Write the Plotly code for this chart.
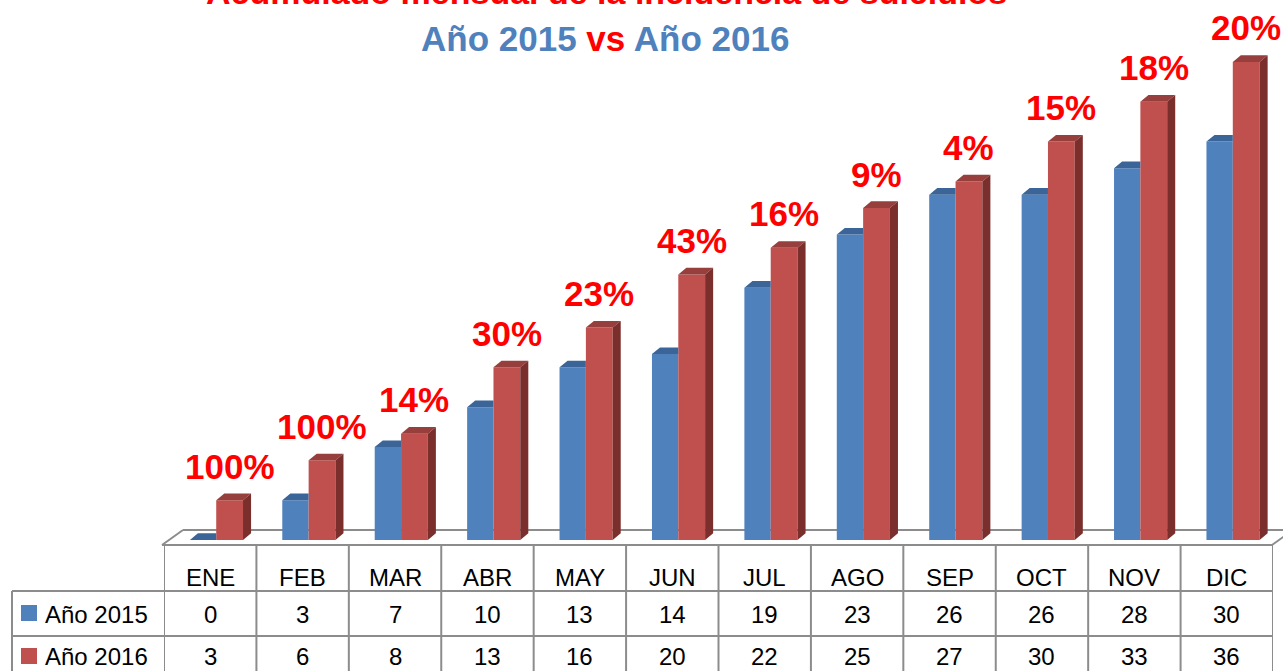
import plotly.graph_objects as go

months = ["ENE", "FEB", "MAR", "ABR", "MAY", "JUN", "JUL", "AGO", "SEP", "OCT", "NOV", "DIC"]
y2015 = [0, 3, 7, 10, 13, 14, 19, 23, 26, 26, 28, 30]
y2016 = [3, 6, 8, 13, 16, 20, 22, 25, 27, 30, 33, 36]
pct_labels = ["100%", "100%", "14%", "30%", "23%", "43%", "16%", "9%", "4%", "15%", "18%", "20%"]
series_names = ["Año 2015", "Año 2016"]
title_line1 = "Acumulado mensual de la incidencia de suicidios"

W, H = 1283, 671
L, R, T, B = 164, 10, 0, 131
PW, PH = W - L - R, H - T - B
YMAX = 540 / 13.28

BLUE, BLUE_TOP = "#4F81BD", "#3B6598"
RED, RED_TOP, RED_SIDE = "#C0504D", "#963F3C", "#7A2F2D"
GRID = "#8C8C8C"
FONT = "Liberation Sans, Arial, sans-serif"

B_OFF, B_W = -0.22, 0.285
R_OFF, R_W = 0.065, 0.29
DX, DY = 0.087, 0.5

idx = list(range(len(months)))


def px(xp):
    return (xp - L) / PW


def py(yp):
    return (T + PH - yp) / PH


fig = go.Figure()
fig.add_trace(go.Bar(x=idx, y=y2015, offset=B_OFF, width=B_W, marker=dict(color=BLUE, line=dict(width=0)),
                     name=series_names[0], showlegend=False))
fig.add_trace(go.Bar(x=idx, y=y2016, offset=R_OFF, width=R_W, marker=dict(color=RED, line=dict(width=0)),
                     name=series_names[1], showlegend=False))

# blue top faces (clipped where hidden behind red bar)
bx, by = [], []
for i, v in zip(idx, y2015):
    l, r = i + B_OFF, i + B_OFF + B_W
    bx += [l, r, r, l + DX, l, None]
    by += [v, v, v + DY, v + DY, v, None]
fig.add_trace(go.Scatter(x=bx, y=by, fill="toself", fillcolor=BLUE_TOP, mode="lines",
                         line=dict(width=0, color=BLUE_TOP), hoverinfo="skip", showlegend=False))
# red top and side faces
tx, ty, sx, sy = [], [], [], []
for i, v in zip(idx, y2016):
    l, r = i + R_OFF, i + R_OFF + R_W
    tx += [l, r, r + DX, l + DX, l, None]
    ty += [v, v, v + DY, v + DY, v, None]
    sx += [r, r + DX, r + DX, r, r, None]
    sy += [0, DY, v + DY, v, 0, None]
fig.add_trace(go.Scatter(x=tx, y=ty, fill="toself", fillcolor=RED_TOP, mode="lines",
                         line=dict(width=0, color=RED_TOP), hoverinfo="skip", showlegend=False))
fig.add_trace(go.Scatter(x=sx, y=sy, fill="toself", fillcolor=RED_SIDE, mode="lines",
                         line=dict(width=0, color=RED_SIDE), hoverinfo="skip", showlegend=False))

shapes = []
ln = dict(color=GRID, width=2)
# floor
shapes.append(dict(type="line", xref="paper", yref="paper", x0=px(162), y0=py(545), x1=px(183), y1=py(530), line=ln))
shapes.append(dict(type="line", xref="paper", yref="paper", x0=px(183), y0=py(530), x1=px(1295), y1=py(530), line=ln, layer="below"))
shapes.append(dict(type="line", xref="paper", yref="paper", x0=px(1272), y0=py(545), x1=px(1293), y1=py(530), line=ln))
shapes.append(dict(type="line", xref="paper", yref="paper", x0=px(162), y0=py(545), x1=px(1272), y1=py(545), line=ln))
# table grid
for k in range(len(months) + 1):
    shapes.append(dict(type="line", xref="x", yref="paper", x0=k - 0.5, x1=k - 0.5, y0=py(545), y1=py(672), line=ln))
for yy in (591, 636):
    shapes.append(dict(type="line", xref="paper", yref="paper", x0=px(12), x1=px(1272), y0=py(yy), y1=py(yy), line=ln))
shapes.append(dict(type="line", xref="paper", yref="paper", x0=px(12), x1=px(12), y0=py(591), y1=py(672), line=ln))
# legend keys
for yc, col in ((613, BLUE), (656, RED)):
    shapes.append(dict(type="rect", xref="paper", yref="paper", x0=px(21), x1=px(37), y0=py(yc - 8), y1=py(yc + 8),
                       fillcolor=col, line=dict(width=0)))

ann = []
tfont = dict(family=FONT, size=24, color="#000000")
for i, m in zip(idx, months):
    ann.append(dict(x=i, y=py(577), xref="x", yref="paper", text=m, showarrow=False, font=tfont, yanchor="middle"))
for i, v in zip(idx, y2015):
    ann.append(dict(x=i, y=py(614), xref="x", yref="paper", text=str(v), showarrow=False, font=tfont, yanchor="middle"))
for i, v in zip(idx, y2016):
    ann.append(dict(x=i, y=py(656), xref="x", yref="paper", text=str(v), showarrow=False, font=tfont, yanchor="middle"))
for yc, nm in ((614, series_names[0]), (656, series_names[1])):
    ann.append(dict(x=px(43), y=py(yc), xref="paper", yref="paper", text=nm, showarrow=False, font=tfont,
                    xanchor="left", yanchor="middle"))
# percentage labels above the 2016 bars
for i, v, t in zip(idx, y2016, pct_labels):
    ann.append(dict(x=i + R_OFF + R_W / 2, y=v, xref="x", yref="y", text="<b>" + t + "</b>", showarrow=False,
                    font=dict(family=FONT, size=35, color="#FF0000"),
                    yanchor="middle", yshift=34, xanchor="center"))
# titles
ann.append(dict(x=px(606), y=py(-8), xref="paper", yref="paper", text="<b>" + title_line1 + "</b>", showarrow=False,
                font=dict(family=FONT, size=34, color="#FF0000"), yanchor="middle"))
ann.append(dict(x=px(605), y=py(38), xref="paper", yref="paper",
                text="<b>Año 2015 <span style='color:#FF0000'>vs</span> Año 2016</b>", showarrow=False,
                font=dict(family=FONT, size=35, color=BLUE), yanchor="middle"))

fig.update_layout(
    width=W, height=H, margin=dict(l=L, r=R, t=T, b=B, pad=0),
    paper_bgcolor="white", plot_bgcolor="rgba(0,0,0,0)",
    barmode="overlay", showlegend=False,
    xaxis=dict(range=[-0.5, len(months) - 0.5], showgrid=False, zeroline=False, showticklabels=False,
               showline=False, fixedrange=True),
    yaxis=dict(range=[0, YMAX], showgrid=False, zeroline=False, showticklabels=False, showline=False,
               fixedrange=True),
    shapes=shapes, annotations=ann,
)

fig.write_html("out.html", config={"displayModeBar": False, "staticPlot": True},
               post_script="document.body.style.margin='0';document.body.style.overflow='hidden';")
